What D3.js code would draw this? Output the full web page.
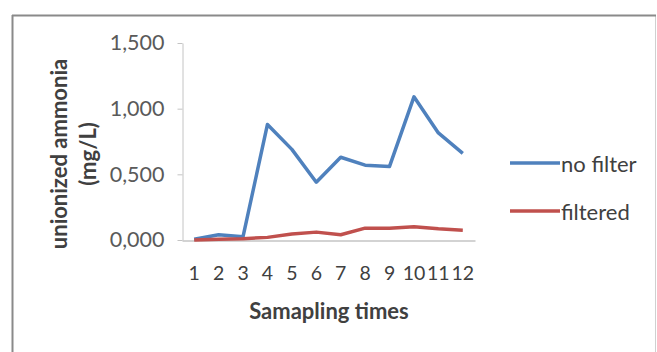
<!DOCTYPE html>
<html>
<head>
<meta charset="utf-8">
<script src="https://cdn.jsdelivr.net/npm/d3@7"></script>
<style>
  html, body { margin: 0; padding: 0; background: #fff; }
  svg { display: block; }
  text { font-family: Lato, "Open Sans", sans-serif; }
</style>
</head>
<body>
<svg id="chart" width="657" height="352"></svg>
<script>
// Sampling rounds and measured unionized ammonia (mg/L)
const categories = ["1", "2", "3", "4", "5", "6", "7", "8", "9", "10", "11", "12"];
const noFilter = [0.005, 0.04, 0.025, 0.88, 0.69, 0.44, 0.63, 0.57, 0.56, 1.09, 0.815, 0.66];
const filtered = [0.0, 0.005, 0.01, 0.02, 0.045, 0.06, 0.04, 0.09, 0.09, 0.10, 0.085, 0.075];
const yTicks = [0, 0.5, 1.0, 1.5];
const seriesNames = ["no filter", "filtered"];
const seriesColors = ["#4f81bd", "#c0504d"];

const svg = d3.select("#chart");

// chart frame
svg.append("rect")
  .attr("x", 12.5).attr("y", 15.5)
  .attr("width", 643).attr("height", 400)
  .attr("fill", "#fff")
  .attr("stroke", "#d0d0d0").attr("stroke-width", 1);
svg.append("line").attr("x1", 12).attr("x2", 656).attr("y1", 15.5).attr("y2", 15.5)
  .attr("stroke", "#8a8a8a").attr("stroke-width", 2);
svg.append("line").attr("x1", 12.5).attr("x2", 12.5).attr("y1", 15).attr("y2", 352)
  .attr("stroke", "#8a8a8a").attr("stroke-width", 2);

const x = d3.scaleBand().domain(categories).range([182, 475]).paddingInner(0).paddingOuter(0);
const y = d3.scaleLinear().domain([0, 1.5]).range([240, 43]);

const fmt = v => d3.format(".3f")(v).replace(".", ",");

// y axis
const yAxis = svg.append("g").attr("transform", "translate(182.5,0)")
  .call(d3.axisLeft(y).tickValues(yTicks).tickFormat(fmt).tickSizeOuter(0).tickSizeInner(5).tickPadding(13));
yAxis.select(".domain").attr("stroke", "#c4c4c4");
yAxis.selectAll(".tick line").attr("stroke", "#c4c4c4");
yAxis.selectAll(".tick text").attr("fill", "#5a5a5a").attr("font-size", 21.5).attr("font-family", "Lato");

// x axis
const xAxis = svg.append("g").attr("transform", "translate(0,240.5)")
  .call(d3.axisBottom(x).tickSize(0).tickPadding(26));
xAxis.select(".domain").attr("stroke", "#c4c4c4").attr("stroke-width", 1.5);
xAxis.selectAll(".tick text").attr("fill", "#404040").attr("font-size", 19.5).attr("font-family", "Lato");

// series lines
const line = d3.line()
  .x((d, i) => x(categories[i]) + x.bandwidth() / 2)
  .y(d => y(d));

[noFilter, filtered].forEach((vals, k) => {
  svg.append("path")
    .datum(vals)
    .attr("d", line)
    .attr("fill", "none")
    .attr("stroke", seriesColors[k])
    .attr("stroke-width", 3.5)
    .attr("stroke-linejoin", "round");
});

// legend
const legendY = [163, 211];
seriesNames.forEach((name, k) => {
  svg.append("line")
    .attr("x1", 510).attr("x2", 560)
    .attr("y1", legendY[k]).attr("y2", legendY[k])
    .attr("stroke", seriesColors[k]).attr("stroke-width", 3.5);
  svg.append("text")
    .attr("x", 561).attr("y", legendY[k] + 9)
    .attr("fill", "#404040")
    .attr("font-size", 22)
    .text(name);
});

// axis titles
svg.append("text")
  .attr("x", 329).attr("y", 319)
  .attr("text-anchor", "middle")
  .attr("font-weight", "bold")
  .attr("font-size", 22)
  .attr("fill", "#404040")
  .text("Samapling times");

const yTitle = svg.append("text")
  .attr("transform", "translate(0,154) rotate(-90)")
  .attr("text-anchor", "middle")
  .attr("font-weight", "bold")
  .attr("font-size", 22)
  .attr("fill", "#404040");
yTitle.append("tspan").attr("x", 0).attr("y", 67).text("unionized ammonia");
yTitle.append("tspan").attr("x", 0).attr("y", 96).text("(mg/L)");
</script>
</body>
</html>
